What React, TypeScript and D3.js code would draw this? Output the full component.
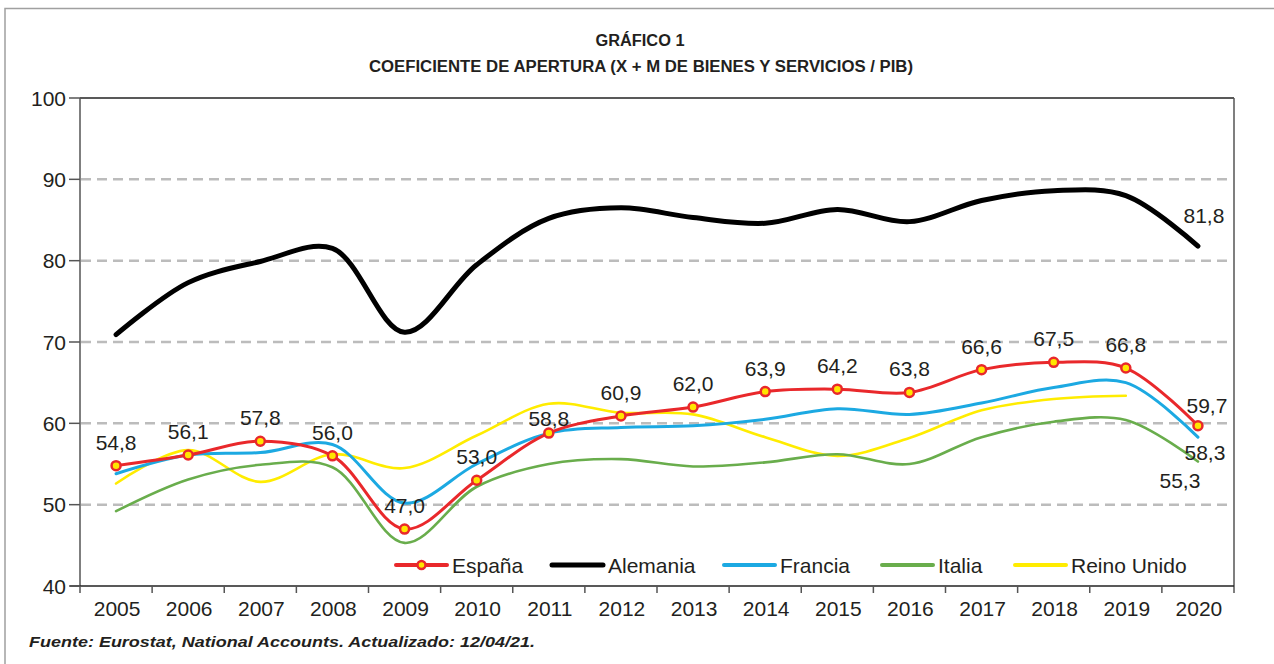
import React from "react";
import * as d3 from "d3";

const years = [2005, 2006, 2007, 2008, 2009, 2010, 2011, 2012, 2013, 2014, 2015, 2016, 2017, 2018, 2019, 2020];
const espana = [54.8, 56.1, 57.8, 56.0, 47.0, 53.0, 58.8, 60.9, 62.0, 63.9, 64.2, 63.8, 66.6, 67.5, 66.8, 59.7];
const alemania = [70.9, 77.3, 79.9, 81.5, 71.2, 79.5, 85.2, 86.5, 85.3, 84.6, 86.3, 84.8, 87.4, 88.6, 88.0, 81.8];
const francia = [53.8, 56.1, 56.4, 57.4, 50.2, 55.0, 58.8, 59.5, 59.7, 60.5, 61.8, 61.1, 62.5, 64.4, 65.0, 58.3];
const italia = [49.2, 53.1, 54.9, 54.6, 45.3, 52.2, 55.0, 55.6, 54.7, 55.2, 56.2, 55.0, 58.3, 60.2, 60.4, 55.3];
const reinoUnido: (number | null)[] = [52.6, 56.7, 52.8, 56.2, 54.5, 58.5, 62.4, 61.3, 61.1, 58.3, 56.0, 58.2, 61.6, 63.0, 63.4, null];
const yTicks = [40, 50, 60, 70, 80, 90, 100];
const seriesNames = ["España", "Alemania", "Francia", "Italia", "Reino Unido"];

const FONT = "'Liberation Sans', Arial, Helvetica, sans-serif";
const TXT = "#231f20";

export default function App() {
  const W = 1274, H = 664;
  const x = d3.scaleBand<number>().domain(years).range([80, 1234]).padding(0);
  const bw = x.bandwidth();
  const cx = (yr: number) => (x(yr) as number) + bw / 2;
  const y = d3.scaleLinear().domain([40, 100]).range([586, 98]);

  const mk = (vals: (number | null)[]) =>
    d3
      .line<number | null>()
      .defined((d) => d !== null)
      .x((_, i) => cx(years[i]))
      .y((d) => y(d as number))
      .curve(d3.curveCatmullRom.alpha(0.5))(vals) || "";

  const series = [
    { name: "Reino Unido", vals: reinoUnido, color: "#ffec00", w: 2.6 },
    { name: "Italia", vals: italia, color: "#69ad4c", w: 2.6 },
    { name: "Francia", vals: francia, color: "#1ca9e2", w: 3 },
    { name: "Alemania", vals: alemania, color: "#000000", w: 5 },
    { name: "España", vals: espana, color: "#e9282b", w: 3 },
  ];
  const colorOf: Record<string, string> = {};
  series.forEach((s) => (colorOf[s.name] = s.color));

  const labelOffset: Record<number, [number, number]> = { 2011: [0, -7], 2020: [9, -13] };

  const legendX = [396, 552, 724, 882, 1015];
  const legendY = 565;

  return (
    <svg width={W} height={H} style={{ position: "absolute", left: 0, top: 0, background: "#fff" }} fontFamily={FONT}>
      <rect x={0} y={0} width={W} height={H} fill="#fff" />
      {/* outer frame */}
      <path d={`M5,${H} V8.5 H${W}`} fill="none" stroke="#a0a0a0" strokeWidth={1.5} />

      {/* titles */}
      <text x={640} y={46} textAnchor="middle" fontWeight="bold" fontSize={16} fill={TXT} textLength={89} lengthAdjust="spacingAndGlyphs">
        GRÁFICO 1
      </text>
      <text x={641} y={72} textAnchor="middle" fontWeight="bold" fontSize={16} fill={TXT} textLength={544} lengthAdjust="spacingAndGlyphs">
        COEFICIENTE DE APERTURA (X + M DE BIENES Y SERVICIOS / PIB)
      </text>

      {/* gridlines */}
      {yTicks
        .filter((t) => t > 40 && t < 100)
        .map((t) => (
          <line key={"g" + t} x1={81} x2={1232} y1={y(t)} y2={y(t)} stroke="#bcbcbc" strokeWidth={2.5} strokeDasharray="10,6" />
        ))}

      {/* frame / axes */}
      <line x1={80} x2={1234} y1={y(100)} y2={y(100)} stroke="#222" strokeWidth={1.5} />
      <line x1={80} x2={80} y1={y(100)} y2={y(40)} stroke="#555" strokeWidth={1.5} />
      <line x1={1234} x2={1234} y1={y(100)} y2={y(40) + 7} stroke="#555" strokeWidth={1.5} />
      <line x1={70} x2={1234} y1={y(40)} y2={y(40)} stroke="#222" strokeWidth={1.5} />

      {/* y ticks */}
      {yTicks.map((t) => (
        <g key={"y" + t}>
          <line x1={69} x2={80} y1={y(t)} y2={y(t)} stroke="#555" strokeWidth={1.5} />
          <text x={66} y={y(t) + 7.5} textAnchor="end" fontSize={21} fill={TXT}>
            {t}
          </text>
        </g>
      ))}

      {/* x ticks */}
      {years.map((yr) => (
        <line key={"xt" + yr} x1={x(yr) as number} x2={x(yr) as number} y1={y(40)} y2={y(40) + 7} stroke="#555" strokeWidth={1.5} />
      ))}
      {years.map((yr) => (
        <text key={"xl" + yr} x={cx(yr) + 1} y={616} textAnchor="middle" fontSize={21} fill={TXT}>
          {yr}
        </text>
      ))}

      {/* lines */}
      {series.map((s) => (
        <path key={s.name} d={mk(s.vals)} fill="none" stroke={s.color} strokeWidth={s.w} strokeLinecap="round" strokeLinejoin="round" />
      ))}

      {/* España markers */}
      {espana.map((v, i) => (
        <circle key={"m" + i} cx={cx(years[i])} cy={y(v)} r={4.5} fill="#ffe600" stroke="#e9282b" strokeWidth={2.5} />
      ))}

      {/* data labels */}
      {espana.map((v, i) => {
        const off = labelOffset[years[i]] || [0, -16];
        return (
          <text key={"l" + i} x={cx(years[i]) + off[0]} y={y(v) + off[1]} textAnchor="middle" fontSize={21} fill={TXT}>
            {v.toFixed(1).replace(".", ",")}
          </text>
        );
      })}
      <text x={cx(2020) + 6} y={y(alemania[15]) - 23} textAnchor="middle" fontSize={21} fill={TXT}>
        {alemania[15].toFixed(1).replace(".", ",")}
      </text>
      <text x={cx(2020) + 7} y={y(francia[15]) + 23} textAnchor="middle" fontSize={21} fill={TXT}>
        {francia[15].toFixed(1).replace(".", ",")}
      </text>
      <text x={cx(2020) - 18} y={y(italia[15]) + 26} textAnchor="middle" fontSize={21} fill={TXT}>
        {italia[15].toFixed(1).replace(".", ",")}
      </text>

      {/* legend */}
      {seriesNames.map((n, i) => (
        <g key={"lg" + n}>
          <line x1={legendX[i]} x2={legendX[i] + 51} y1={legendY} y2={legendY} stroke={colorOf[n]} strokeWidth={n === "Alemania" ? 5 : 4} strokeLinecap="round" />
          {n === "España" && <circle cx={legendX[i] + 25.5} cy={legendY} r={4} fill="#ffe600" stroke="#e9282b" strokeWidth={2.5} />}
          <text x={legendX[i] + 56} y={legendY + 7.5} fontSize={21} fill={TXT}>
            {n}
          </text>
        </g>
      ))}

      {/* footnote */}
      <text x={29} y={647} fontSize={15} fontWeight="bold" fontStyle="italic" fill={TXT} textLength={506} lengthAdjust="spacingAndGlyphs">
        Fuente: Eurostat, National Accounts. Actualizado: 12/04/21.
      </text>
    </svg>
  );
}
